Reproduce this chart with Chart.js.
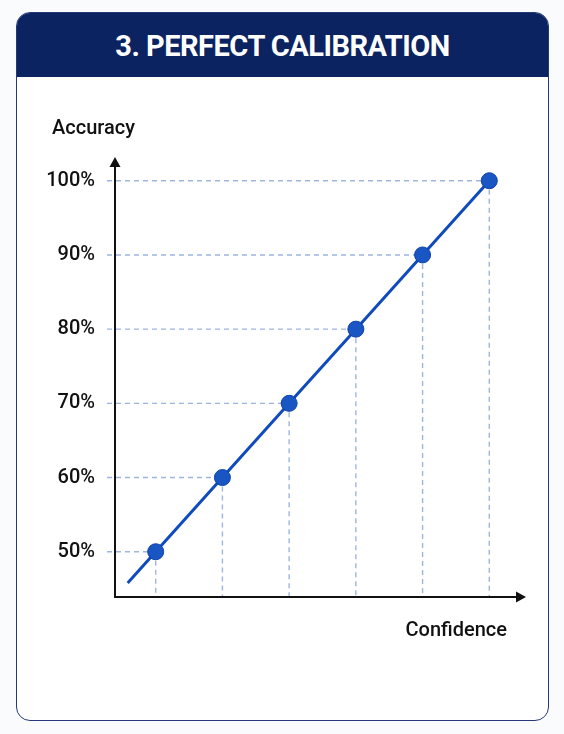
<!DOCTYPE html>
<html>
<head>
<meta charset="utf-8">
<script src="https://cdn.jsdelivr.net/npm/chart.js@4"></script>
<style>
  html, body { margin:0; padding:0; width:564px; height:734px; background:#fafbfc; overflow:hidden; }
  #card { position:absolute; left:16px; top:12px; width:531px; height:707px; border:1.5px solid #25397a; border-radius:14px; background:#ffffff; overflow:hidden; }
  #header { position:absolute; left:0; top:0; width:100%; height:64px; background:#0b2360; color:#fff; font-family:Roboto, "Noto Sans", sans-serif; font-weight:700; font-size:29px; letter-spacing:-0.5px; text-align:center; line-height:66px; }
  #wrap { position:absolute; left:0; top:0; width:564px; height:734px; }
</style>
</head>
<body>
<div id="card"><div id="header">3. PERFECT CALIBRATION</div></div>
<div id="wrap"><canvas id="c" width="564" height="734"></canvas></div>
<script>
const confidenceLevels = [50, 60, 70, 80, 90, 100];
const accuracyLevels   = [50, 60, 70, 80, 90, 100];
const lineStart = { confidence: 45.8, accuracy: 45.8 };
const yTickValues = [50, 60, 70, 80, 90, 100];
const yTickLabels = ['50%', '60%', '70%', '80%', '90%', '100%'];
const axisTitleY = 'Accuracy';
const axisTitleX = 'Confidence';

const points = [{ x: lineStart.confidence, y: lineStart.accuracy }]
  .concat(confidenceLevels.map((c, i) => ({ x: c, y: accuracyLevels[i] })));

const guidesAndAxes = {
  id: 'guidesAndAxes',
  beforeDatasetsDraw(chart) {
    const { ctx, chartArea: a, scales: { x, y } } = chart;
    ctx.save();
    ctx.strokeStyle = '#9db5df';
    ctx.lineWidth = 1.4;
    ctx.setLineDash([5, 4]);
    confidenceLevels.forEach((c, i) => {
      const px = x.getPixelForValue(c), py = y.getPixelForValue(accuracyLevels[i]);
      ctx.beginPath(); ctx.moveTo(a.left - 8, py); ctx.lineTo(px, py); ctx.stroke();
      ctx.beginPath(); ctx.moveTo(px, py); ctx.lineTo(px, a.bottom); ctx.stroke();
    });
    ctx.setLineDash([]);
    ctx.strokeStyle = '#111'; ctx.fillStyle = '#111'; ctx.lineWidth = 2;
    ctx.beginPath(); ctx.moveTo(a.left, a.bottom); ctx.lineTo(a.left, a.top + 8); ctx.stroke();
    ctx.beginPath(); ctx.moveTo(a.left - 1, a.bottom); ctx.lineTo(a.right - 8, a.bottom); ctx.stroke();
    ctx.beginPath(); ctx.moveTo(a.left, a.top); ctx.lineTo(a.left - 5.5, a.top + 10); ctx.lineTo(a.left + 5.5, a.top + 10); ctx.closePath(); ctx.fill();
    ctx.beginPath(); ctx.moveTo(a.right, a.bottom); ctx.lineTo(a.right - 10, a.bottom - 5.5); ctx.lineTo(a.right - 10, a.bottom + 5.5); ctx.closePath(); ctx.fill();
    ctx.font = '500 20px Roboto';
    ctx.fillStyle = '#111';
    ctx.textBaseline = 'middle';
    ctx.textAlign = 'left';
    ctx.fillText(axisTitleY, a.left - 63, a.top - 28);
    ctx.textAlign = 'right';
    ctx.fillText(axisTitleX, a.right - 19, a.bottom + 34);
    ctx.restore();
  }
};

new Chart(document.getElementById('c'), {
  type: 'line',
  data: {
    datasets: [{
      data: points,
      borderColor: '#0f4bbd',
      borderWidth: 3,
      backgroundColor: '#1a55c4',
      pointBackgroundColor: '#1a55c4',
      pointBorderColor: '#0d42a8',
      pointBorderWidth: 1,
      pointRadius: points.map((p, i) => i === 0 ? 0 : 8),
      pointHoverRadius: points.map((p, i) => i === 0 ? 0 : 8),
      tension: 0,
      fill: false
    }]
  },
  options: {
    responsive: false,
    animation: false,
    events: [],
    layout: { padding: { left: 45, top: 157, right: 38, bottom: 137 } },
    plugins: { legend: { display: false }, tooltip: { enabled: false }, title: { display: false } },
    scales: {
      x: {
        type: 'linear', min: 43.9, max: 105.5,
        grid: { display: false }, border: { display: false },
        ticks: { display: false },
        afterFit(s) { s.height = 0; }
      },
      y: {
        type: 'linear', min: 43.9, max: 103.2,
        grid: { display: false, drawTicks: false }, border: { display: false },
        afterBuildTicks(s) { s.ticks = yTickValues.map(v => ({ value: v })); },
        afterFit(s) { s.width = 70; },
        ticks: {
          padding: 20,
          color: '#111',
          font: { family: 'Roboto', size: 20, weight: '500' },
          callback(v) { const i = yTickValues.indexOf(v); return i >= 0 ? yTickLabels[i] : ''; }
        }
      }
    }
  },
  plugins: [guidesAndAxes]
});
</script>
</body>
</html>
